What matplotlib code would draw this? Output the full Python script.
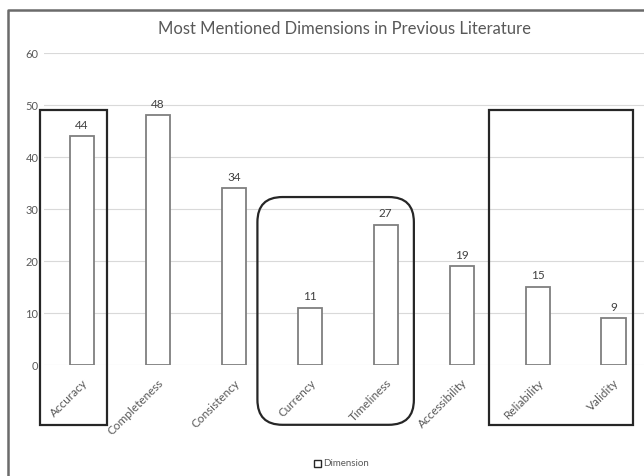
import matplotlib
matplotlib.use('Agg')
import matplotlib.pyplot as plt
from matplotlib.patches import Rectangle, FancyBboxPatch, Patch
from matplotlib.lines import Line2D
import numpy as np

plt.rcParams['font.family'] = ['Lato', 'DejaVu Sans']

dimensions = ['Accuracy', 'Completeness', 'Consistency', 'Currency',
              'Timeliness', 'Accessibility', 'Reliability', 'Validity']
mentions = [44, 48, 34, 11, 27, 19, 15, 9]

# groups of categories that get a frame drawn round them
square_groups = [(0, 0), (6, 7)]
rounded_group = (3, 4)

text_grey = '#595959'
bar_grey = '#7f7f7f'

fig = plt.figure(figsize=(6.44, 4.76), dpi=100)
ax = fig.add_axes([44 / 644, 111 / 476, 600 / 644, 312 / 476])

x = np.arange(len(dimensions))
bars = ax.bar(x, mentions, width=0.32, color='white', edgecolor=bar_grey,
              linewidth=1.3, zorder=3, label='Dimension')
for b, v in zip(bars, mentions):
    ax.annotate(str(v), (b.get_x() + b.get_width() / 2, v), xytext=(0, 4),
                textcoords='offset points', ha='center', va='bottom',
                fontsize=8.5, color='#404040')

ax.set_xlim(-0.5, 7.4)
ax.set_ylim(0, 60)
ax.set_yticks(np.arange(0, 61, 10))
ax.yaxis.grid(True, color='#d9d9d9', linewidth=0.8, zorder=0)
ax.set_axisbelow(True)
for s in ax.spines.values():
    s.set_visible(False)
ax.tick_params(axis='both', length=0, labelcolor=text_grey)
ax.tick_params(axis='y', pad=4, labelsize=8)
ax.set_xticks(x)
ax.set_xticklabels(dimensions, rotation=45, ha='right', va='top',
                   rotation_mode='anchor', fontsize=8.5)
ax.tick_params(axis='x', pad=9)

ax.set_title('Most Mentioned Dimensions in Previous Literature',
             fontsize=12, color=text_grey, pad=14)

# frames round the category groups, extending below the axis labels
box_bottom = -11.5
box_top = 49.0
frame_spans = {(0, 0): (-0.55, 0.33), (6, 7): (-0.64, 0.25)}
for a, b in square_groups:
    lo, hi = frame_spans[(a, b)]
    left, right = a + lo, b + hi
    ax.add_patch(Rectangle((left, box_bottom), right - left, box_top - box_bottom,
                           fill=False, edgecolor='#262626', linewidth=1.6,
                           clip_on=False, zorder=5))

fig.canvas.draw()
px = ax.transData.transform([(0, 0), (1, 1)])
y_per_x = (px[1, 0] - px[0, 0]) / (px[1, 1] - px[0, 1])
a, b = rounded_group
r_left, r_right, r_top = a - 0.69, b + 0.37, 32.3
ax.add_patch(FancyBboxPatch((r_left, box_bottom), r_right - r_left, r_top - box_bottom,
                            boxstyle='round,pad=0,rounding_size=0.33',
                            mutation_aspect=y_per_x, fill=False,
                            edgecolor='#262626', linewidth=1.6,
                            clip_on=False, zorder=5))

# outer chart frame (top and left edges)
fig.add_artist(Line2D([8 / 644, 8 / 644, 1.0], [0.0, 1 - 10 / 476, 1 - 10 / 476],
                      transform=fig.transFigure, color='#6b6b6b', linewidth=1.8))

fig.legend(handles=[Patch(facecolor='white', edgecolor='#262626', linewidth=1.0)],
           labels=['Dimension'], loc='center', bbox_to_anchor=(0.53, 12 / 476),
           frameon=False, fontsize=7, handlelength=0.7, handleheight=0.7,
           handletextpad=0.2, labelcolor=text_grey)

fig.savefig('out.png', dpi=100)
